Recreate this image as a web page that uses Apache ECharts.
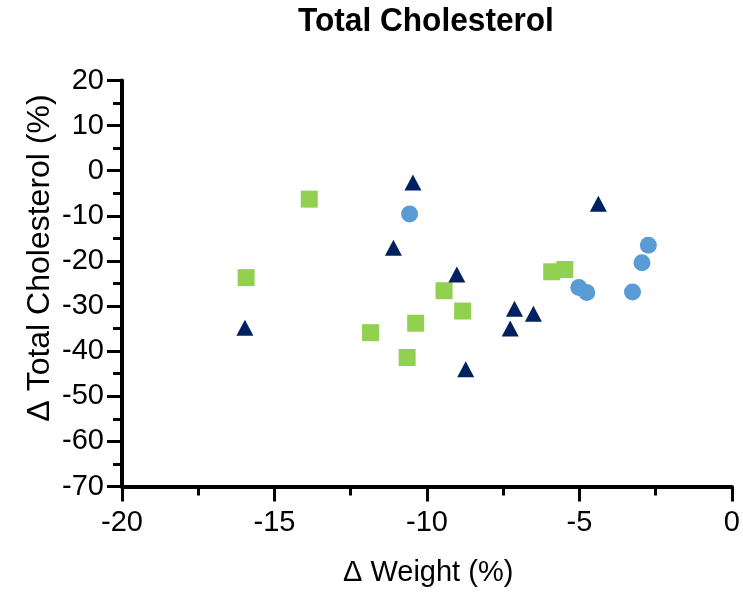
<!DOCTYPE html>
<html>
<head>
<meta charset="utf-8">
<script src="https://cdn.jsdelivr.net/npm/echarts@6/dist/echarts.min.js"></script>
<style>
  html, body { margin: 0; padding: 0; background: #fff; }
  #chart { width: 743px; height: 596px; }
</style>
</head>
<body>
<div id="chart"></div>
<script>
// Change in weight (%) vs change in total cholesterol (%), three groups
const groupA_weight = [-15.97, -10.46, -11.1, -9.02, -8.73, -4.38, -7.13, -6.51, -7.27];
const groupA_chol   = [-34.8, -2.6, -17.1, -23.0, -44.0, -7.3, -30.6, -31.7, -35.0];

const groupB_weight = [-15.93, -13.86, -11.85, -10.65, -10.37, -9.44, -8.83, -5.91, -5.48];
const groupB_chol   = [-23.7, -6.3, -35.9, -41.4, -33.8, -26.6, -31.1, -22.4, -21.9];

const groupC_weight = [-10.57, -2.74, -2.95, -3.26, -5.02, -4.76];
const groupC_chol   = [-9.6, -16.5, -20.4, -26.9, -25.9, -27.0];

const xTicks = { min: -20, max: 0, step: 5 };
const yTicks = { min: -70, max: 20, step: 10 };

const pairs = (xs, ys) => xs.map((x, i) => [x, ys[i]]);

const chart = echarts.init(document.getElementById('chart'), null, { renderer: 'canvas' });

const axisCommon = {
  axisLine: { show: true, onZero: false, lineStyle: { color: '#000', width: 4 } },
  axisTick: { show: true, inside: false, length: 15, lineStyle: { color: '#000', width: 3 } },
  minorTick: { show: true, splitNumber: 2, length: 9, lineStyle: { color: '#000', width: 3 } },
  splitLine: { show: false },
  minorSplitLine: { show: false }
};

const tickFont = '"Liberation Sans", Arial, sans-serif';
const titleFont = '"Liberation Sans", Arial, sans-serif';

chart.setOption({
  animation: false,
  backgroundColor: '#fff',
  grid: { left: 122, right: 11, top: 80.5, bottom: 109.5, containLabel: false },
  xAxis: Object.assign({
    type: 'value',
    min: xTicks.min, max: xTicks.max, interval: xTicks.step,
    axisLabel: { color: '#000', fontSize: 29, fontFamily: tickFont, margin: 22 }
  }, axisCommon),
  yAxis: Object.assign({
    type: 'value',
    min: yTicks.min, max: yTicks.max, interval: yTicks.step,
    axisLabel: { color: '#000', fontSize: 29, fontFamily: tickFont, margin: 18 }
  }, axisCommon),
  graphic: [
    {
      // slightly condensed bold heading
      type: 'text', x: 298, y: 5, scaleX: 0.93,
      style: { text: 'Total Cholesterol', font: 'bold 34px ' + titleFont, fill: '#000' }
    },
    {
      type: 'text', left: 343, top: 558,
      style: { text: 'Δ Weight (%)', font: '29px ' + titleFont, fill: '#000' }
    },
    {
      type: 'text', x: 40, y: 258, rotation: Math.PI / 2,
      style: { text: 'Δ Total Cholesterol (%)', font: '32px ' + titleFont, fill: '#000',
               align: 'center', verticalAlign: 'middle' }
    }
  ],
  series: [
    {
      name: 'Group B', type: 'scatter', symbol: 'rect', symbolSize: 17,
      itemStyle: { color: '#92D050', opacity: 1 },
      data: pairs(groupB_weight, groupB_chol)
    },
    {
      name: 'Group C', type: 'scatter', symbol: 'circle', symbolSize: 17,
      itemStyle: { color: '#5B9BD5', opacity: 1 },
      data: pairs(groupC_weight, groupC_chol)
    },
    {
      name: 'Group A', type: 'scatter', symbol: 'triangle', symbolSize: [17, 16],
      itemStyle: { color: '#002060', opacity: 1 },
      data: pairs(groupA_weight, groupA_chol)
    }
  ]
});
</script>
</body>
</html>
